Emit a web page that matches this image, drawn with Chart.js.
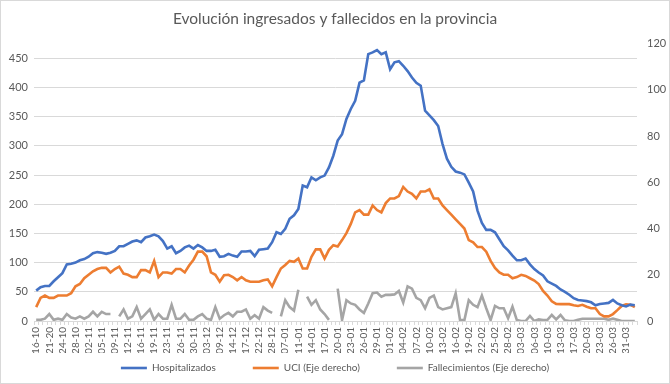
<!DOCTYPE html>
<html>
<head>
<meta charset="utf-8">
<script src="https://cdn.jsdelivr.net/npm/chart.js@4"></script>
<style>
  html, body { margin: 0; padding: 0; background: #fff; }
  #wrap { position: relative; width: 668px; height: 382px; border: 1px solid #d9d9d9; }
</style>
</head>
<body>
<div id="wrap"><canvas id="chart"></canvas></div>
<script>
// one tick label every 3 categories
const tickLabels = [
  "16-10", "21-20", "24-10", "28-10", "02-11", "05-11", "09-11", "12-11", "16-11", "19-11",
  "23-11", "26-11", "30-11", "03-12", "09-12", "14-12", "17-12", "22-12", "28-12", "07-01",
  "11-01", "14-01", "17-01", "20-01", "23-01", "26-01", "29-01", "01-02", "04-02", "07-02",
  "10-02", "13-02", "16-02", "19-02", "22-02", "25-02", "28-02", "03-03", "06-03", "10-03",
  "13-03", "17-03", "20-03", "23-03", "26-03", "31-03",
];

const hospitalizados = [
  52, 58, 60, 60, 68, 75, 82, 97, 98, 100,
  104, 106, 110, 116, 118, 117, 115, 117, 120, 128,
  128, 132, 136, 138, 135, 143, 145, 148, 145, 137,
  124, 128, 116, 120, 126, 129, 124, 130, 126, 120,
  120, 122, 110, 111, 115, 112, 110, 119, 119, 120,
  111, 122, 123, 124, 135, 152, 149, 158, 175, 181,
  192, 232, 229, 246, 241, 246, 249, 263, 283, 309,
  320, 346, 363, 377, 408, 412, 457, 460, 464, 457,
  460, 431, 443, 445, 437, 428, 417, 408, 403, 360,
  352, 344, 334, 303, 278, 264, 256, 254, 251, 237,
  222, 189, 168, 156, 156, 152, 140, 128, 121, 112,
  104, 104, 107, 97, 89, 83, 78, 68, 64, 60,
  54, 50, 45, 39, 36, 35, 34, 32, 27, 29,
  30, 31, 36, 30, 27, 25, 28, 27,
];

const uci = [
  6, 10, 11, 10, 10, 11, 11, 11, 12, 15,
  16, 18.5, 20, 21.5, 22.5, 23, 23, 21, 22.5, 23.5,
  20.5, 20, 19, 19, 22, 22, 21, 26, 19, 21,
  21, 20.5, 22.5, 22.5, 21, 24, 26.5, 30, 30, 28,
  21, 20, 17, 19.8, 20, 19, 17.6, 19, 17.6, 17,
  17, 17, 17.6, 18, 15, 19, 22.7, 24.2, 26, 25.6,
  27, 22.7, 22.7, 27.8, 31, 31, 27, 30.8, 32.8, 32.2,
  35, 38, 42, 47, 48, 46, 46, 50, 48, 47,
  51, 53, 53, 54, 58, 56, 55, 53, 56, 56,
  57, 53, 53, 50, 48, 46, 44, 42, 40, 35,
  34, 32, 32, 30, 26, 23, 21, 20, 20, 18.5,
  19, 20, 19.5, 18.5, 17.5, 16, 13, 11, 8.5, 7.4,
  7.3, 7.3, 7.3, 6.8, 6.5, 7, 6.2, 5.5, 5.5, 3,
  2, 2, 3, 4.7, 6.5, 7.2, 7, 6,
];

const fallecimientos = [
  0.5, 0.5, 1, 3, 0.5, 1, 0.5, 3, 1.5, 1,
  2, 1, 2, 4, 2, 4, 3, 3, null, 2,
  5, 1, 2, 6, 1, 3, 5, 0.5, 3, 1,
  1, 7, 1, 1, 3, 0.5, 0.5, 2, 3, 1,
  0.5, 6, 1, 2.5, 3.5, 2, 4, 4, 5, 1,
  2.5, 1, 6, 4.5, 3.5, null, 2, 9, 6, 4.5,
  13.5, null, 10.5, 7, 9, 5, 3, 0.5, null, 14,
  0.4, 9, 7.6, 7, 5, 3.5, 7.6, 12, 12.3, 10.5,
  11.3, 11.3, 11.5, 13, 8, 15, 14, 10, 9, 5.5,
  10, 11, 6, 5, 5.5, 6, 12, 0.4, 0.4, 9,
  7, 6, 11, 5.5, 0.4, 6.5, 5.5, 5.5, 1.2, 6.2,
  0.4, 0, 0, 2.2, 0, 0.7, 0.4, 0.5, 2.6, 0.7,
  2.6, 0.3, 0, 0, 0.5, 1, 1, 1, 1, 1,
  1, 0.5, 1, 0.5, 0, 0, 0, 0,
];

const categories = hospitalizados.map((_, i) =>
  i % 3 === 0 ? tickLabels[i / 3] || "" : "",
);

const textColor = "#595959";
const gridColor = "#d9d9d9";
const font = "Lato, 'Open Sans', sans-serif";

const line = (label, data, color, axis) => ({
  label,
  data,
  yAxisID: axis,
  borderColor: color,
  backgroundColor: color,
  borderWidth: 2.6,
  pointRadius: 0,
  pointStyle: "line",
  tension: 0,
  spanGaps: false,
});

// wide gaps between legend items, but keep the row close to the axis labels
const liftLegend = {
  id: "liftLegend",
  afterLayout(chart) {
    chart.legend.top -= 27;
  },
};

new Chart(document.getElementById("chart"), {
  type: "line",
  plugins: [liftLegend],
  data: {
    labels: categories,
    datasets: [
      line("Hospitalizados", hospitalizados, "#4472c4", "y"),
      line("UCI (Eje derecho)", uci, "#ed7d31", "y1"),
      line("Fallecimientos (Eje derecho)", fallecimientos, "#a5a5a5", "y1"),
    ],
  },
  options: {
    responsive: true,
    maintainAspectRatio: false,
    animation: false,
    layout: { padding: 0 },
    plugins: {
      title: {
        display: true,
        text: "Evolución ingresados y fallecidos en la provincia",
        color: textColor,
        font: { family: font, size: 15.5, weight: "normal" },
        padding: { top: 9, bottom: 15 },
      },
      legend: {
        position: "bottom",
        maxHeight: 30,
        labels: {
          color: textColor,
          font: { family: font, size: 10 },
          usePointStyle: true,
          pointStyleWidth: 26,
          boxHeight: 8,
          padding: 37,
        },
      },
      tooltip: { enabled: false },
    },
    scales: {
      x: {
        offset: true,
        grid: {
          display: true,
          drawOnChartArea: false,
          color: gridColor,
          tickLength: 4,
          offset: true,
        },
        border: { color: gridColor },
        ticks: {
          autoSkip: false,
          minRotation: 90,
          maxRotation: 90,
          color: textColor,
          font: { family: font, size: 10 },
          padding: 2,
        },
        afterFit: (scale) => { scale.height = 32; },
      },
      y: {
        position: "left",
        min: 0,
        max: 475,
        ticks: {
          stepSize: 50,
          color: textColor,
          font: { family: font, size: 11 },
          padding: 6,
        },
        afterBuildTicks: (scale) => {
          scale.ticks = scale.ticks.filter((t) => t.value % 50 === 0);
        },
        grid: { color: gridColor, drawTicks: false },
        border: { display: false },
        afterFit: (scale) => { scale.width = 33; },
      },
      y1: {
        position: "right",
        min: 0,
        max: 120,
        ticks: {
          stepSize: 20,
          color: textColor,
          font: { family: font, size: 11 },
          padding: 10,
        },
        grid: { display: false, drawTicks: false },
        border: { display: false },
        afterFit: (scale) => { scale.width = 32; },
      },
    },
  },
});
</script>
</body>
</html>
